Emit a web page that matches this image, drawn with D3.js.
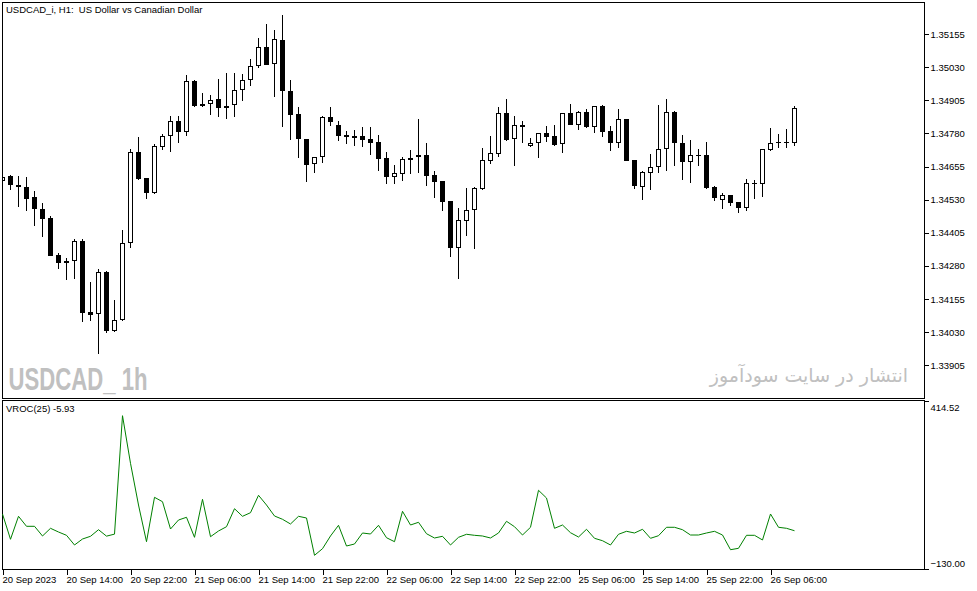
<!DOCTYPE html>
<html><head><meta charset="utf-8">
<script src="https://cdn.jsdelivr.net/npm/d3@7"></script>
<style>html,body{margin:0;padding:0;background:#fff;overflow:hidden} text{white-space:pre}</style>
</head><body><svg id="c" width="977" height="591"></svg>
<script>
const open = [1.34599,1.34619,1.34585,1.34577,1.34539,1.34494,1.34460,1.34320,1.34290,1.34297,
1.34374,1.34106,1.34097,1.34257,1.34033,1.34075,1.34365,1.34709,1.34611,1.34554,
1.34730,1.34769,1.34827,1.34786,1.34978,1.34891,1.34890,1.34910,1.34883,1.34886,
1.34944,1.34980,1.35033,1.35106,1.35041,1.35132,1.34941,1.34853,1.34759,1.34663,
1.34691,1.34842,1.34812,1.34774,1.34770,1.34770,1.34759,1.34748,1.34687,1.34617,
1.34628,1.34687,1.34690,1.34699,1.34623,1.34600,1.34525,1.34346,1.34448,1.34490,
1.34570,1.34677,1.34702,1.34856,1.34758,1.34812,1.34734,1.34745,1.34780,1.34769,
1.34739,1.34856,1.34813,1.34860,1.34805,1.34882,1.34789,1.34745,1.34834,1.34680,
1.34579,1.34632,1.34652,1.34720,1.34860,1.34743,1.34673,1.34699,1.34699,1.34577,
1.34529,1.34548,1.34520,1.34497,1.34592,1.34588,1.34717,1.34745,1.34746,1.34745];
const high = [1.34621,1.34623,1.34619,1.34617,1.34564,1.34516,1.34468,1.34328,1.34309,1.34382,
1.34382,1.34219,1.34270,1.34262,1.34151,1.34416,1.34721,1.34768,1.34612,1.34739,
1.34778,1.34846,1.34846,1.35000,1.34981,1.34931,1.34925,1.34985,1.35007,1.35007,
1.35004,1.35060,1.35141,1.35193,1.35170,1.35227,1.34981,1.34881,1.34760,1.34692,
1.34846,1.34881,1.34827,1.34789,1.34792,1.34804,1.34804,1.34774,1.34710,1.34661,
1.34692,1.34717,1.34834,1.34743,1.34638,1.34601,1.34526,1.34497,1.34573,1.34579,
1.34725,1.34770,1.34880,1.34910,1.34846,1.34826,1.34762,1.34783,1.34808,1.34811,
1.34858,1.34891,1.34864,1.34872,1.34884,1.34886,1.34808,1.34872,1.34836,1.34681,
1.34638,1.34702,1.34887,1.34910,1.34863,1.34774,1.34755,1.34721,1.34746,1.34582,
1.34554,1.34549,1.34521,1.34608,1.34604,1.34722,1.34802,1.34778,1.34797,1.34883];
const low = [1.34595,1.34566,1.34503,1.34488,1.34432,1.34390,1.34317,1.34270,1.34227,1.34232,
1.34068,1.34073,1.33949,1.34028,1.34030,1.34072,1.34349,1.34604,1.34534,1.34551,
1.34717,1.34709,1.34745,1.34770,1.34881,1.34878,1.34849,1.34843,1.34833,1.34843,
1.34903,1.34960,1.35028,1.35037,1.34918,1.34803,1.34755,1.34686,1.34598,1.34632,
1.34669,1.34808,1.34752,1.34740,1.34732,1.34729,1.34699,1.34638,1.34589,1.34589,
1.34600,1.34628,1.34632,1.34583,1.34535,1.34488,1.34315,1.34229,1.34393,1.34345,
1.34566,1.34665,1.34692,1.34751,1.34658,1.34745,1.34730,1.34688,1.34749,1.34734,
1.34707,1.34812,1.34793,1.34799,1.34783,1.34768,1.34715,1.34726,1.34675,1.34571,
1.34529,1.34566,1.34632,1.34639,1.34658,1.34604,1.34594,1.34658,1.34571,1.34526,
1.34494,1.34506,1.34481,1.34488,1.34531,1.34541,1.34715,1.34726,1.34726,1.34732];
const close = [1.34617,1.34584,1.34577,1.34534,1.34494,1.34458,1.34319,1.34292,1.34300,1.34374,
1.34104,1.34096,1.34257,1.34033,1.34075,1.34365,1.34709,1.34608,1.34554,1.34734,
1.34769,1.34826,1.34786,1.34978,1.34883,1.34883,1.34905,1.34877,1.34877,1.34944,
1.34980,1.35033,1.35105,1.35039,1.35135,1.34939,1.34851,1.34758,1.34662,1.34691,
1.34842,1.34823,1.34771,1.34766,1.34764,1.34756,1.34745,1.34685,1.34617,1.34629,
1.34682,1.34681,1.34699,1.34620,1.34598,1.34522,1.34346,1.34452,1.34490,1.34573,
1.34680,1.34705,1.34856,1.34755,1.34811,1.34805,1.34743,1.34780,1.34768,1.34736,
1.34856,1.34813,1.34860,1.34805,1.34882,1.34786,1.34745,1.34834,1.34677,1.34583,
1.34633,1.34652,1.34720,1.34860,1.34745,1.34673,1.34699,1.34697,1.34573,1.34535,
1.34548,1.34519,1.34499,1.34592,1.34593,1.34720,1.34745,1.34746,1.34745,1.34875];
const vroc = [48.3,-33.7,40.8,8.4,8.4,-23.0,1.9,-10.1,-20.8,-52.2,
-32.8,-24.0,-2.6,-23.5,-17.0,366.9,212.6,77.4,-41.5,102.4,
88.1,-0.4,28.8,37.6,-27.3,95.9,-25.3,-6.8,7.1,65.4,
40.8,52.5,108.9,77.4,41.8,31.1,15.9,40.8,35.3,-85.6,
-64.2,-23.0,11.6,-55.5,-49.0,-13.3,-16.6,11.6,-28.6,-41.5,
57.0,12.6,21.4,-15.6,-29.5,-24.0,-52.2,-27.3,-17.5,-20.8,
-23.0,-29.5,-13.3,24.6,7.1,-19.8,5.2,125.1,100.1,1.9,
12.6,-12.4,-26.3,-1.3,-30.5,-38.3,-52.2,-17.5,-7.8,-13.3,
-1.3,-30.5,-22.1,5.2,5.2,-2.6,-19.8,-19.8,-13.3,-7.8,
-19.8,-67.5,-62.9,-20.8,-20.8,-36.0,48.3,5.2,1.9,-5.93];
const priceTicks = [1.35155,1.35030,1.34905,1.34780,1.34655,1.34530,1.34405,1.34280,1.34155,1.34030,1.33905];
const vrocTicks = [414.52,-130.00];
const timeTickIndex = [0,8,16,24,32,40,48,56,64,72,80,88,96];
const timeTickLabels = ["20 Sep 2023","20 Sep 14:00","20 Sep 22:00","21 Sep 06:00","21 Sep 14:00","21 Sep 22:00","22 Sep 06:00","22 Sep 14:00","22 Sep 22:00","25 Sep 06:00","25 Sep 14:00","25 Sep 22:00","26 Sep 06:00"];
const titleText = "USDCAD_i, H1:  US Dollar vs Canadian Dollar";
const indLabel = "VROC(25) -5.93";

const FONT = "'Liberation Sans', Arial, sans-serif";
const svg = d3.select("#c");
svg.append("rect").attr("width",977).attr("height",591).attr("fill","#fff");

const x = d3.scaleLinear().domain([0, 99]).range([2.5, 794.5]);
const y = d3.scaleLinear().domain([1.33905, 1.35155]).range([365.3, 34]);
const yv = d3.scaleLinear().domain([-130, 414.52]).range([569, 401]);

svg.append("clipPath").attr("id","mainClip").append("rect").attr("x",2).attr("y",2).attr("width",923).attr("height",397);
svg.append("clipPath").attr("id","indClip").append("rect").attr("x",2).attr("y",400).attr("width",923).attr("height",170);

// watermarks
svg.append("text").attr("x",8.5).attr("y",390).attr("font-family","'Liberation Sans Narrow', 'Liberation Sans', Arial, sans-serif")
  .attr("font-weight","bold").attr("font-size",32).attr("fill","#c0c0c0")
  .attr("textLength",139).attr("lengthAdjust","spacingAndGlyphs").text("USDCAD_ 1h");
svg.append("text").attr("x",908).attr("y",382).attr("text-anchor","end").attr("font-family","'DejaVu Sans', sans-serif")
  .attr("font-size",19).attr("fill","#c0c0c0")
  .text("انتشار در سایت سودآموز");

// candles
const idx = d3.range(open.length);
const g = svg.append("g").attr("clip-path","url(#mainClip)").attr("shape-rendering","crispEdges");
g.selectAll("line.wick").data(idx).join("line").attr("class","wick")
  .attr("x1",i=>x(i)).attr("x2",i=>x(i))
  .attr("y1",i=>y(high[i])).attr("y2",i=>y(low[i]))
  .attr("stroke","#000").attr("stroke-width",1);
idx.forEach(i=>{
  const top = y(Math.max(open[i],close[i])), bot = y(Math.min(open[i],close[i]));
  const bull = close[i] >= open[i];
  const h = bot-top;
  if (h < 1.2) {
    g.append("line").attr("x1",x(i)-2.5).attr("x2",x(i)+2.5).attr("y1",(top+bot)/2).attr("y2",(top+bot)/2)
      .attr("stroke","#000").attr("stroke-width",1);
  } else if (bull) {
    g.append("rect").attr("x",x(i)-2).attr("y",top+0.5).attr("width",4).attr("height",Math.max(0.5,h-1))
      .attr("fill","#fff").attr("stroke","#000").attr("stroke-width",1);
  } else {
    g.append("rect").attr("x",x(i)-2.5).attr("y",top).attr("width",5).attr("height",Math.max(1,h))
      .attr("fill","#000");
  }
});

// frames
svg.append("rect").attr("x",2.5).attr("y",2.5).attr("width",922).attr("height",396).attr("fill","none").attr("stroke","#000");
svg.append("rect").attr("x",2.5).attr("y",400.5).attr("width",922).attr("height",169).attr("fill","none").attr("stroke","#000");

// price axis
const pa = svg.append("g").attr("transform","translate(924.5,0)")
  .call(d3.axisRight(y).tickValues(priceTicks).tickSize(4).tickPadding(2).tickFormat(d3.format(".5f")));
pa.select(".domain").remove();
pa.selectAll("line").attr("shape-rendering","crispEdges");
pa.selectAll("text").attr("font-family",FONT).attr("font-size",9.5).attr("fill","#000");

// VROC line
svg.append("path").datum(vroc).attr("clip-path","url(#indClip)")
  .attr("d", d3.line().x((d,i)=>x(i)).y(d=>yv(d)))
  .attr("fill","none").attr("stroke","#008000").attr("stroke-width",1);

// VROC axis
const va = svg.append("g").attr("transform","translate(924.5,0)")
  .call(d3.axisRight(yv).tickValues(vrocTicks).tickSize(4).tickPadding(2).tickFormat(d3.format(".2f")));
va.select(".domain").remove();
va.selectAll("line").attr("shape-rendering","crispEdges");
va.selectAll("text").attr("font-family",FONT).attr("font-size",9.5).attr("fill","#000")
  .attr("dy",(d)=> d>0 ? "0.95em" : "-0.25em");

// time axis
const ta = svg.append("g").attr("transform","translate(0,569.5)")
  .call(d3.axisBottom(x).tickValues(timeTickIndex).tickSize(5).tickPadding(2).tickFormat((d,i)=>timeTickLabels[i]));
ta.select(".domain").remove();
ta.selectAll("line").attr("shape-rendering","crispEdges");
ta.selectAll("text").attr("font-family",FONT).attr("font-size",9.5).attr("fill","#000")
  .attr("text-anchor","start").attr("dx",-0.5);

// labels
svg.append("text").attr("x",6).attr("y",13).attr("font-family",FONT).attr("font-size",9.5).attr("fill","#000")
  .attr("xml:space","preserve").text(titleText);
svg.append("text").attr("x",6).attr("y",412).attr("font-family",FONT).attr("font-size",9.5).attr("fill","#000").text(indLabel);
</script></body></html>
